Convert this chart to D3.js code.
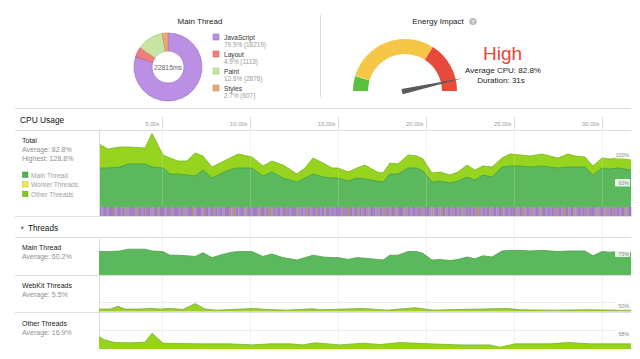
<!DOCTYPE html>
<html><head><meta charset="utf-8">
<script src="https://cdn.jsdelivr.net/npm/d3@7"></script>
<style>
body{margin:0;background:#fff;}
svg{display:block;font-family:"Liberation Sans",Arial,Helvetica,sans-serif;}
</style>
</head><body>
<svg id="c" width="640" height="359"></svg>
<script>
// ---------------- data ----------------
const mainThreadCategories = ["JavaScript", "Layout", "Paint", "Styles"];
const mainThreadPercents = [79.9, 4.9, 12.6, 2.7];
const mainThreadMs = [18219, 1113, 2876, 607];
const mainThreadTotalMs = 22815;
const categoryColors = ["#bb90e4", "#ef7f7c", "#c8e4a2", "#eea77a"];
const categoryStrokes = ["#9a72c6", "#cf5e5b", "#a6c57f", "#cd8659"];

const energyLabel = "High";
const averageCpu = 82.8;
const highestCpu = 128.8;
const durationSec = 31;
const gaugeBands = [[0, 8.2], [8.5, 60.3], [60.5, 89]];
const gaugeColors = ["#5cbf3f", "#f6c646", "#e74a3b"];

const tickSeconds = [5, 10, 15, 20, 25, 30];
const cpuTimes = [1.42, 1.93, 2.61, 3.07, 4.03, 4.43, 5.06, 5.45, 5.91, 6.42, 6.88, 7.33, 7.84, 8.41, 8.98, 9.32, 10.11, 10.74, 11.25, 11.88, 12.67, 13.13, 13.58, 14.15, 14.66, 15.0, 15.57, 16.08, 16.53, 17.22, 17.56, 17.95, 18.41, 18.98, 19.49, 19.83, 20.34, 20.8, 21.36, 21.82, 22.33, 22.78, 23.24, 23.75, 24.32, 24.77, 25.34, 25.91, 26.59, 27.5, 28.07, 28.47, 29.03, 29.49, 30.0, 30.45, 30.91, 31.65];
const totalCpu = [110.4, 101.7, 105.2, 105.2, 103.4, 128.8, 91.2, 85.9, 80.6, 80.6, 94.7, 89.4, 70.1, 78.9, 87.7, 92.9, 87.7, 71.9, 80.6, 73.6, 57.9, 68.4, 85.9, 77.1, 68.4, 68.4, 61.4, 68.4, 73.6, 61.4, 59.6, 77.1, 75.4, 91.2, 89.4, 84.2, 59.6, 61.4, 56.1, 61.4, 73.6, 64.9, 71.9, 70.1, 85.9, 92.9, 91.2, 89.4, 92.9, 85.9, 92.9, 89.4, 87.7, 71.9, 85.9, 84.2, 85.9, 82.4];
const mainCpu = [68.4, 68.4, 70.1, 75.4, 75.4, 70.1, 68.4, 57.9, 57.9, 56.1, 54.3, 64.9, 50.8, 59.6, 66.6, 68.4, 68.4, 54.3, 61.4, 50.8, 43.8, 50.8, 57.9, 52.6, 50.8, 50.8, 45.6, 50.8, 49.1, 45.6, 43.8, 57.9, 57.9, 68.4, 68.4, 63.1, 43.8, 45.6, 42.1, 45.6, 52.6, 47.3, 56.1, 52.6, 70.1, 71.9, 71.9, 70.1, 71.9, 68.4, 70.1, 70.1, 70.1, 56.1, 68.4, 66.6, 68.4, 64.9];
const webkitTimes = [1.42, 2.05, 2.5, 2.9, 3.75, 4.32, 4.89, 5.45, 6.19, 6.88, 7.44, 8.13, 9.03, 10.17, 10.97, 12.1, 13.58, 13.98, 16.42, 17.78, 19.38, 20.4, 21.93, 23.07, 24.6, 25.34, 27.22, 29.15, 31.02, 31.65];
const webkitCpu = [7, 7, 15, 7, 7, 9, 7, 9, 6, 23, 7, 4, 6, 9, 6, 4, 8, 5, 9, 4, 11, 4, 6, 7, 9, 5, 4, 5, 4, 4];
const otherTimes = [1.42, 1.76, 2.33, 3.18, 4.03, 4.43, 5.06, 6.02, 7.16, 8.86, 10.17, 11.14, 12.27, 13.01, 13.69, 13.98, 15.11, 16.42, 17.39, 18.52, 20.23, 21.93, 23.64, 24.2, 25.06, 27.05, 28.07, 29.32, 30.45, 31.65];
const otherCpu = [36, 26, 19, 18, 20, 46, 17, 16, 15, 15, 12, 15, 15, 12, 18, 17, 12, 17, 13, 19, 15, 12, 12, 5, 15, 15, 19, 15, 15, 15];

const threadRows = ["Main Thread", "WebKit Threads", "Other Threads"];
const threadAverages = [60.2, 5.5, 16.9];
const rowMarkers = ["75%", "50%", "58%"];
const totalMarkers = ["100%", "60%"];
const legendNames = ["Main Thread", "Worker Threads", "Other Threads"];
const legendColors = ["#4fb04e", "#ecec4c", "#84c91f"];
// main-thread activity strip: J/j JavaScript, L Layout, P Paint, S Styles
const activityPattern = "JjJjJJLjJjJPjJJjSJjJLJjjJPJJjJLjJJjJPjJJSjJJjLJjJPJjJjJJLjSJjJjPJjJJjLJjJSPJjJjJLJjJJPjJjSJjJLJjJPJjJjJJjLJSJjJPJjJLjJJjPJjSJjJLjJJPjJjJjJLjJJjPjJjSJjJjLJjJPjJJjJLSjJjJPjJjJLjJjJJPjJSjJjLjJjPJjJjJLjJjSJjJPjJjJLjJJjPjJjSjJLjJjJPjJ";
const activityColors = {J: "#9f7cbf", j: "#ad8cc8", L: "#b28899", P: "#a69b97", S: "#af9283"};

// ---------------- drawing ----------------
const svg = d3.select("#c");
const FONT_DARK = "#222", FONT_GRAY = "#8f8f8f", LINE = "#dedede";

function txt(x, y, s, size, fill, anchor, weight) {
  return svg.append("text").attr("x", x).attr("y", y).text(s)
    .attr("font-size", size).attr("fill", fill)
    .attr("text-anchor", anchor || "start")
    .attr("font-weight", weight || "normal");
}
function hline(y, x1, x2, color) {
  svg.append("line").attr("x1", x1).attr("x2", x2).attr("y1", y).attr("y2", y)
    .attr("stroke", color || LINE).attr("stroke-width", 1);
}

// ---- Main Thread donut ----
txt(200, 24, "Main Thread", 8, FONT_DARK, "middle");
const pie = d3.pie().sort(null).value(d => d)(mainThreadPercents);
const arcD = d3.arc().innerRadius(16).outerRadius(34);
const donut = svg.append("g").attr("transform", "translate(168,67)");
donut.selectAll("path").data(pie).join("path")
  .attr("d", arcD)
  .attr("fill", (d, i) => categoryColors[i])
  .attr("stroke", (d, i) => categoryStrokes[i])
  .attr("stroke-width", 0.7);
txt(168, 69.5, mainThreadTotalMs + "ms", 6.8, "#666", "middle");

mainThreadCategories.forEach((c, i) => {
  const y0 = 34 + i * 17;
  svg.append("rect").attr("x", 213).attr("y", y0).attr("width", 6).attr("height", 6)
    .attr("fill", categoryColors[i]).attr("stroke", categoryStrokes[i]).attr("stroke-width", 0.6);
  txt(224, y0 + 6, c, 6.6, "#333");
  txt(224, y0 + 13, mainThreadPercents[i].toFixed(1) + "% (" + mainThreadMs[i] + ")", 6.4, "#9a9a9a");
});

// divider
svg.append("line").attr("x1", 320.5).attr("x2", 320.5).attr("y1", 15).attr("y2", 97).attr("stroke", LINE);

// ---- Energy Impact gauge ----
txt(438, 24, "Energy Impact", 8, FONT_DARK, "middle");
svg.append("circle").attr("cx", 473).attr("cy", 21.5).attr("r", 3.6).attr("fill", "#b8b8b8");
txt(473, 23.5, "?", 5.5, "#fff", "middle", "bold");

const gaugeScale = d3.scaleLinear().domain([0, 89]).range([-Math.PI / 2, Math.PI / 2]);
const gArc = d3.arc().innerRadius(37).outerRadius(52);
const gauge = svg.append("g").attr("transform", "translate(405,91)");
gauge.append("path")
  .attr("d", gArc({startAngle: gaugeScale(0), endAngle: gaugeScale(89)}))
  .attr("fill", "#eef3c8");
gaugeBands.forEach((b, i) => {
  gauge.append("path")
    .attr("d", gArc({startAngle: gaugeScale(b[0]), endAngle: gaugeScale(b[1])}))
    .attr("fill", gaugeColors[i]);
});
// needle
const na = gaugeScale(averageCpu);
const tip = [60 * Math.sin(na), -60 * Math.cos(na)];
const px = Math.cos(na), py = Math.sin(na);
const bx = -3 * Math.sin(na), by = 3 * Math.cos(na);
gauge.append("path")
  .attr("d", `M${bx + px * 2.6},${by + py * 2.6} L${tip[0]},${tip[1]} L${bx - px * 2.6},${by - py * 2.6} Z`)
  .attr("fill", "#5a5a5a");

txt(502.5, 60, energyLabel, 19, "#e8453c", "middle");
txt(503, 73, "Average CPU: " + averageCpu + "%", 8, FONT_DARK, "middle");
txt(501, 82.5, "Duration: " + durationSec + "s", 8, FONT_DARK, "middle");

// ---- CPU usage section ----
const X0 = 99, X1 = 631;
const x = d3.scaleLinear().domain([1.42, 31.65]).range([X0, X1]);

hline(108.5, 15, X1);
hline(130.5, 15, X1);
txt(20, 123, "CPU Usage", 8.4, "#111");

// tick marks / grid
tickSeconds.forEach(t => {
  const xx = Math.round(x(t)) + 0.5;
  svg.append("line").attr("x1", xx).attr("x2", xx).attr("y1", 117).attr("y2", 130).attr("stroke", LINE);
  svg.append("line").attr("x1", xx).attr("x2", xx).attr("y1", 130).attr("y2", 349).attr("stroke", "#efefef");
  txt(xx - 3, 126, t.toFixed(2) + "s", 5.8, "#9a9a9a", "end");
});

// left panel text
txt(22, 143, "Total", 7, FONT_DARK);
txt(22, 152, "Average: " + averageCpu + "%", 7, FONT_GRAY);
txt(22, 160.5, "Highest: " + highestCpu + "%", 7, FONT_GRAY);
legendNames.forEach((n, i) => {
  svg.append("rect").attr("x", 22.5).attr("y", 172 + i * 9.6).attr("width", 5.5).attr("height", 5.5)
    .attr("fill", legendColors[i]).attr("stroke", d3.color(legendColors[i]).darker(0.6)).attr("stroke-width", 0.5);
  txt(31, 177.5 + i * 9.6, n, 6.6, "#a0a0a0");
});

// total chart
const yTotal = d3.scaleLinear().domain([0, 135]).range([207, 130]);
const totalData = cpuTimes.map((t, i) => ({t, v: totalCpu[i]}));
const mainData = cpuTimes.map((t, i) => ({t, v: mainCpu[i]}));
function drawArea(data, yS, fill, stroke) {
  const area = d3.area().x(d => x(d.t)).y0(yS(0)).y1(d => yS(d.v));
  const line = d3.line().x(d => x(d.t)).y(d => yS(d.v));
  svg.append("path").datum(data).attr("d", area).attr("fill", fill);
  svg.append("path").datum(data).attr("d", line).attr("fill", "none").attr("stroke", stroke).attr("stroke-width", 0.8);
}
drawArea(totalData, yTotal, "#97d420", "#77b51b");
drawArea(mainData, yTotal, "#5cb85c", "#45a045");

// activity strip
const band = d3.scaleBand().domain(d3.range(activityPattern.length)).range([X0, X1]);
svg.append("g").selectAll("rect").data(activityPattern.split("")).join("rect")
  .attr("x", (d, i) => band(i)).attr("width", band.bandwidth() + 0.3)
  .attr("y", 207).attr("height", 9)
  .attr("fill", d => activityColors[d]);

// over-area faint gridlines
tickSeconds.forEach(t => {
  const xx = Math.round(x(t)) + 0.5;
  svg.append("line").attr("x1", xx).attr("x2", xx).attr("y1", 130).attr("y2", 207).attr("stroke", "rgba(255,255,255,0.18)");
});

function marker(label, y) {
  svg.append("rect").attr("x", 615).attr("y", y - 4).attr("width", 15).attr("height", 7.5)
    .attr("fill", "rgba(255,255,255,0.85)").attr("rx", 1);
  txt(629, y + 2, label, 5.2, "#8a8a8a", "end");
}
marker(totalMarkers[0], 155);
marker(totalMarkers[1], 183);

// threads header
hline(216.5, 15, X1);
txt(19.5, 230, "\u25BC", 5.5, "#777");
txt(28, 230.5, "Threads", 8.2, "#111");
hline(237.5, 15, X1);
hline(275.5, 15, X1);
hline(312.5, 15, X1);
svg.append("line").attr("x1", 99.5).attr("x2", 99.5).attr("y1", 130).attr("y2", 216).attr("stroke", LINE);
svg.append("line").attr("x1", 99.5).attr("x2", 99.5).attr("y1", 237).attr("y2", 349).attr("stroke", LINE);

const rowBottoms = [275, 311.5, 349];
const rowTextY = [250, 288, 326];
threadRows.forEach((n, i) => {
  txt(22, rowTextY[i], n, 7, FONT_DARK);
  txt(22, rowTextY[i] + 9, "Average: " + threadAverages[i] + "%", 7, FONT_GRAY);
});
// guide lines
hline(302.5, 100, X1, "#ececec");
hline(330.5, 100, X1, "#ececec");

const yMain = d3.scaleLinear().domain([0, 108]).range([rowBottoms[0], rowBottoms[0] - 37]);
const yWeb = d3.scaleLinear().domain([0, 108]).range([rowBottoms[1], rowBottoms[1] - 37]);
const yOther = d3.scaleLinear().domain([0, 108]).range([rowBottoms[2], rowBottoms[2] - 37]);
drawArea(mainData, yMain, "#5cb85c", "#4ea24c");
drawArea(webkitTimes.map((t, i) => ({t, v: webkitCpu[i]})), yWeb, "#9ad326", "#7ea43a");
drawArea(otherTimes.map((t, i) => ({t, v: otherCpu[i]})), yOther, "#97d420", "#7ab51e");

marker(rowMarkers[0], 253.5);
marker(rowMarkers[1], 306);
marker(rowMarkers[2], 334);
</script>
</body></html>
